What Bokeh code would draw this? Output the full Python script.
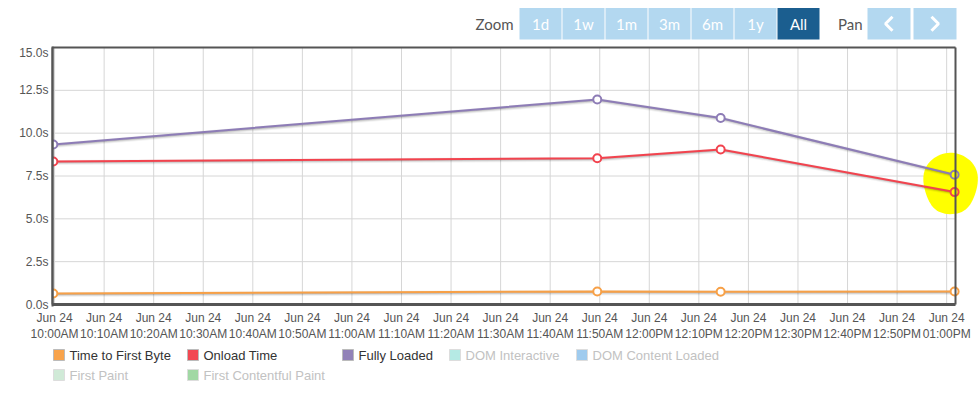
import numpy as np
import pandas as pd
from bokeh.plotting import figure
from bokeh.layouts import column
from bokeh.models import (Range1d, FixedTicker, DatetimeTickFormatter, PrintfTickFormatter,
                          ColumnDataSource)
from bokeh.transform import dodge
from bokeh.core.properties import value
from bokeh.embed import file_html
from bokeh.resources import INLINE

# ---------------- data ----------------
times = pd.to_datetime(["2019-06-24 09:59:45", "2019-06-24 11:49:30",
                        "2019-06-24 12:14:24", "2019-06-24 13:01:36"])
ttfb = [0.64, 0.76, 0.74, 0.76]
onload = [8.35, 8.54, 9.05, 6.56]
fully_loaded = [9.34, 11.97, 10.88, 7.57]

series_names = ["Time to First Byte", "Onload Time", "Fully Loaded", "DOM Interactive",
                "DOM Content Loaded", "First Paint", "First Contentful Paint"]
series_colors = ["#f8a34b", "#f24852", "#9282b8", "#b5eae4", "#9fcbee", "#d0ead7", "#a1d8a4"]
series_visible = [True, True, True, False, False, False, False]

tick_times = pd.date_range("2019-06-24 10:00", "2019-06-24 13:00", freq="10min")
y_ticks = [0, 2.5, 5, 7.5, 10, 12.5, 15]
zoom_buttons = ["1d", "1w", "1m", "3m", "6m", "1y", "All"]

x_start = pd.Timestamp("2019-06-24 09:59:35")
x_end = pd.Timestamp("2019-06-24 13:01:47")
y_min, y_max = 0, 15

# ---------------- geometry / style ----------------
FONT = value("Liberation Sans")
W = 978
FRAME_L = 52            # left edge of the plotting frame (page px)
AXES_W, AXES_H = 903, 257
EXT_W = W - FRAME_L     # frame extended to the page edge so the highlight can overflow
ms_per_px = (x_end - x_start).total_seconds() * 1000 / AXES_W
u_per_px = (y_max - y_min) / AXES_H
xs_ms = x_start.value / 1e6
xe_ms = x_end.value / 1e6

# ---------------- toolbar (range selector) ----------------
TB_H = 45
tb = figure(width=W, height=TB_H, x_range=Range1d(FRAME_L, W), y_range=Range1d(TB_H, 0),
            toolbar_location=None, output_backend="svg", min_border=0,
            x_axis_location=None, y_axis_location=None)
tb.grid.visible = False
tb.outline_line_color = None

btn_left, btn_w, btn_step, btn_top, btn_h = 519, 42, 43, 7.5, 31.5
btn_cy = btn_top + btn_h / 2
bx = [btn_left + i * btn_step + btn_w / 2 for i in range(len(zoom_buttons))]
bcol = ["#b3d8f0"] * (len(zoom_buttons) - 1) + ["#1b5e8f"]
tb.rect(x=bx, y=[btn_cy] * len(bx), width=btn_w, height=btn_h, fill_color=bcol, line_color=None)
tb.text(x=bx, y=[btn_cy + 0.5] * len(bx), text=zoom_buttons, text_color="white",
        text_align="center", text_baseline="middle", text_font=value("Lato"), text_font_size="15px")
tb.text(x=[513], y=[btn_cy + 0.5], text=["Zoom"], text_color="#555555", text_align="right",
        text_baseline="middle", text_font=value("Lato"), text_font_size="15px")
tb.text(x=[862], y=[btn_cy + 0.5], text=["Pan"], text_color="#555555", text_align="right",
        text_baseline="middle", text_font=value("Lato"), text_font_size="15px")
pan_left, pan_w, pan_step = 867, 43, 46
px_c = [pan_left + i * pan_step + pan_w / 2 for i in range(2)]
tb.rect(x=px_c, y=[btn_cy] * 2, width=pan_w, height=btn_h, fill_color="#b3d8f0", line_color=None)
tb.multi_line(xs=[[px_c[0] + 3.5, px_c[0] - 3.5, px_c[0] + 3.5],
                  [px_c[1] - 3.5, px_c[1] + 3.5, px_c[1] - 3.5]],
              ys=[[btn_cy - 7, btn_cy, btn_cy + 7]] * 2, line_color="white", line_width=3)

# ---------------- main chart ----------------
P_H = 300
x_end_ext = xs_ms + EXT_W * ms_per_px
p = figure(width=W, height=P_H, x_axis_type="datetime",
           x_range=Range1d(xs_ms, x_end_ext),
           y_range=Range1d(y_min - 2 * u_per_px, y_max + 1 * u_per_px),
           output_backend="svg", toolbar_location=None,
           min_border_left=FRAME_L, min_border_right=0, min_border_top=1, min_border_bottom=39)
p.outline_line_color = None
p.grid.visible = False

p.xaxis.ticker = FixedTicker(ticks=[t.value // 10**6 for t in tick_times])
fmt = "%b %d\n%I:%M%p"
p.xaxis.formatter = DatetimeTickFormatter(minsec=fmt, minutes=fmt, hourmin=fmt, hours=fmt,
                                          days=fmt, strip_leading_zeros=False)
p.yaxis.ticker = FixedTicker(ticks=y_ticks)
p.yaxis.formatter = PrintfTickFormatter(format="%.1fs")
for ax in (p.xaxis[0], p.yaxis[0]):
    ax.major_tick_line_color = None
    ax.minor_tick_line_color = None
    ax.major_tick_out = 0
    ax.major_tick_in = 0
    ax.minor_tick_out = 0
    ax.major_label_text_font = "Liberation Sans"
    ax.major_label_text_font_size = "12px"
    ax.major_label_text_color = "#555555"
p.yaxis.axis_line_color = "#555555"
p.yaxis.axis_line_width = 2
p.yaxis.major_label_standoff = 4
p.xaxis.axis_line_color = None
p.xaxis.major_label_standoff = 4

# grid lines, limited to the axes box
tick_ms = [t.value / 1e6 for t in tick_times]
p.segment(x0=tick_ms, x1=tick_ms, y0=[y_min] * len(tick_ms), y1=[y_max] * len(tick_ms),
          line_color="#d6d6d6", line_width=1)
p.segment(x0=[xs_ms] * len(y_ticks), x1=[xe_ms] * len(y_ticks), y0=y_ticks, y1=y_ticks,
          line_color="#d6d6d6", line_width=1)

# yellow highlight around the latest measurements
last_ms = times[-1].value / 1e6
hl_y = (fully_loaded[-1] + onload[-1]) / 2
ang = np.linspace(0, 2 * np.pi, 72)
rx, ry = 27 * ms_per_px, 32 * u_per_px
blob_x = last_ms - 4 * ms_per_px + rx * np.cos(ang) * (1 + 0.05 * np.sin(3 * ang))
blob_y = hl_y + ry * np.sin(ang) * (1 + 0.04 * np.cos(2 * ang))
p.patch(x=blob_x, y=blob_y, fill_color="#ffff00", line_color=None)

src = ColumnDataSource(dict(t=times, ttfb=ttfb, onload=onload, fl=fully_loaded))
line_colors = {"ttfb": "#f7a047", "onload": "#f2434e", "fl": "#8d7cb6"}
for col in ["ttfb", "onload", "fl"]:
    for w, a in [(5, 0.05), (3, 0.1), (1, 0.15)]:
        p.line(x=dodge("t", ms_per_px), y=dodge(col, -u_per_px), source=src,
               line_width=w, line_alpha=a, line_color="black")
for col in ["ttfb", "onload", "fl"]:
    vals = src.data[col]
    fills = ["#ffff00" if (i == len(vals) - 1 and abs(v - hl_y) < ry) else "white"
             for i, v in enumerate(vals)]
    s = ColumnDataSource(dict(t=times, v=vals, f=fills))
    p.line(x="t", y="v", source=s, line_color=line_colors[col], line_width=2)
    p.scatter(x="t", y="v", source=s, size=8, marker="circle", fill_color="f",
              line_color=line_colors[col], line_width=2)

# frame borders of the axes box
b1 = p.segment(x0=[xs_ms, xe_ms, xs_ms], x1=[xe_ms, xe_ms, xs_ms],
               y0=[y_max, y_min, y_min], y1=[y_max, y_max, y_max],
               line_color="#555555", line_width=2)
b2 = p.segment(x0=[xs_ms], x1=[xe_ms], y0=[y_min], y1=[y_min], line_color="#555555", line_width=3)
b1.level = "overlay"
b2.level = "overlay"

# ---------------- legend ----------------
LG_H = 399 - TB_H - P_H
LG_TOP = TB_H + P_H
lg = figure(width=W, height=LG_H, x_range=Range1d(FRAME_L, W), y_range=Range1d(LG_H, 0),
            toolbar_location=None, output_backend="svg", min_border=0,
            x_axis_location=None, y_axis_location=None)
lg.grid.visible = False
lg.outline_line_color = None
col_x = [52, 186, 341, 448, 575]
row_y = [354.5 - LG_TOP, 374.5 - LG_TOP]
lx = [col_x[i % 5] for i in range(len(series_names))]
ly = [row_y[i // 5] for i in range(len(series_names))]
lg.rect(x=[x + 6.5 for x in lx], y=ly, width=11, height=11, fill_color=series_colors,
        line_color=["#bbbbbb" if v else "#dddddd" for v in series_visible], line_width=1)
lg.text(x=[x + 17 for x in lx], y=[y + 0.5 for y in ly], text=series_names,
        text_color=["#333333" if v else "#c2c2c2" for v in series_visible],
        text_baseline="middle", text_font=FONT, text_font_size="13px")

layout = column(tb, p, lg)
open("out.html", "w").write(file_html(layout, INLINE))
